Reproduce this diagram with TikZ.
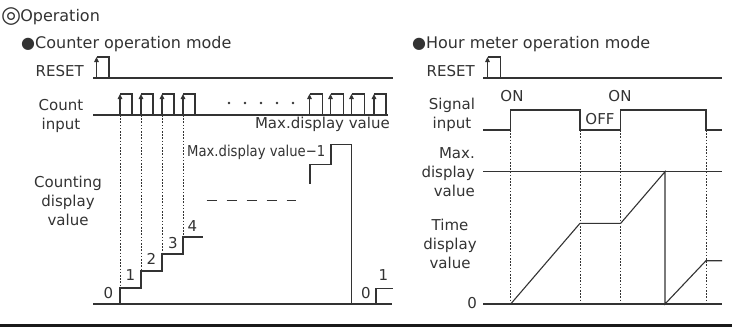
\documentclass[tikz,border=0pt]{standalone}
\usepackage{fontspec}
\setmainfont{DejaVu Sans}
\usepackage{graphicx}
\usetikzlibrary{arrows.meta}
\definecolor{ink}{HTML}{333333}
\tikzset{
  lbl/.style={text=ink, inner sep=0pt, font=\fontsize{15}{19}\selectfont},
  hdr/.style={text=ink, inner sep=0pt, font=\fontsize{16}{19}\selectfont, anchor=base west},
  wave/.style={draw=ink, line width=1.1pt, line join=miter},
  guide/.style={draw=ink, line width=0.9pt, dash pattern=on 1.6pt off 1.6pt},
  upedge/.style={draw=ink, line width=1.1pt, -{Triangle[length=5pt,width=4.5pt]}},
  gapline/.style={draw=ink, line width=1.1pt, dash pattern=on 10pt off 10pt},
}
\begin{document}
\begin{tikzpicture}[x=1pt,y=-1pt]
\useasboundingbox (0,0) rectangle (732,327);
\fill[white] (0,0) rectangle (732,327);

% headers
\node[hdr] (op) at (1,21) {\raisebox{-1.5pt}{\fontsize{23}{23}\selectfont ◎}\kern-1pt Operation};
\node[hdr] (cm) at (21,48) {●Counter operation mode};
\node[hdr] (hm) at (412,48) {●Hour meter operation mode};

% ===== left panel =====
\node[lbl, anchor=base east] (resetL) at (84,76) {RESET};
\draw[wave] (93,78) -- (393,78);
\draw[upedge] (96.5,78) -- (96.5,57);
\draw[wave] (96.5,57) -- (109,57) -- (109,78);

\node[lbl, align=center, anchor=base] (countL) at (61,129) {Count\\input};
\draw[wave] (93,115) -- (388,115);
\foreach \r/\f in {120/132,141/153,162/174,183/195,309.5/322.5,330.5/343.5,351.5/364.5,374/386}{
  \draw[upedge] (\r,115) -- (\r,94);
  \draw[wave] (\r,94) -- (\f,94) -- (\f,115);
}
\foreach \x in {229,245,261,277,293} \fill[ink] (\x,103) circle (1.4);
\node[lbl, anchor=base east] (maxL) at (390,128) {Max.display value};

% guides
\draw[guide] (120,115) -- (120,288);
\draw[guide] (141,115) -- (141,271);
\draw[guide] (162,115) -- (162,254);
\draw[guide] (183,115) -- (183,237);

\node[lbl, align=center, anchor=base] (cntdisp) at (68,225) {Counting\\display\\value};
\draw[wave] (93,304) -- (391.5,304);
\draw[wave] (120,304) -- (120,288) -- (141,288) -- (141,271) -- (162,271) -- (162,254) -- (183,254) -- (183,237) -- (203,237);
\draw[gapline] (206.7,200.7) -- (296,200.7);
\draw[wave] (310,183.5) -- (310,164.3) -- (331,164.3) -- (331,144.3) -- (351.7,144.3) -- (351.7,304);
\draw[wave] (376,304) -- (376,288.3) -- (392.5,288.3);
\node[lbl, anchor=base west] (maxm1) at (187,156) {\scalebox{0.88}[1]{Max.display value−1}};

\node[lbl, anchor=base] (d0) at (108.3,298) {0};
\node[lbl, anchor=base] (d1) at (130.5,280.5) {1};
\node[lbl, anchor=base] (d2) at (151.5,264) {2};
\node[lbl, anchor=base] (d3) at (173,248) {3};
\node[lbl, anchor=base] (d4) at (192.5,231) {4};
\node[lbl, anchor=base] (e0) at (366,298) {0};
\node[lbl, anchor=base] (e1) at (383.3,280) {1};

% ===== right panel =====
\node[lbl, anchor=base east] (resetR) at (475,76) {RESET};
\draw[wave] (483,78) -- (722,78);
\draw[upedge] (487.5,78) -- (487.5,57);
\draw[wave] (487.5,57) -- (500.5,57) -- (500.5,78);

\node[lbl, align=center, anchor=base] (sigL) at (452,128) {Signal\\input};
\draw[wave] (483,130) -- (510.7,130) -- (510.7,110) -- (580,110) -- (580,130) -- (620.7,130) -- (620.7,110) -- (706,110) -- (706,130) -- (722,130);
\node[lbl, anchor=base] (on1) at (512,101) {ON};
\node[lbl, anchor=base] (on2) at (620,101) {ON};
\node[lbl, anchor=base] (off) at (600,124) {OFF};

\foreach \x in {510.7,580,620.7,706} \draw[guide] (\x,130) -- (\x,304);

\node[lbl, align=right, anchor=base east] (maxR) at (475,196) {Max.\\display\\value};
\draw[wave] (483,171.7) -- (722,171.7);
\node[lbl, align=center, anchor=base] (timeL) at (450,268) {Time\\display\\value};
\node[lbl, anchor=base east] (zeroR) at (477,308.5) {0};
\draw[wave] (483,304) -- (722,304);
\draw[wave] (510.7,304) -- (580,223.3) -- (620.7,223.3) -- (665,171.7) -- (665,304) -- (706,260.7) -- (722,260.7);

% bottom rule
\draw[black!90, line width=3pt] (0,325.5) -- (732,325.5);
\end{tikzpicture}
\end{document}
